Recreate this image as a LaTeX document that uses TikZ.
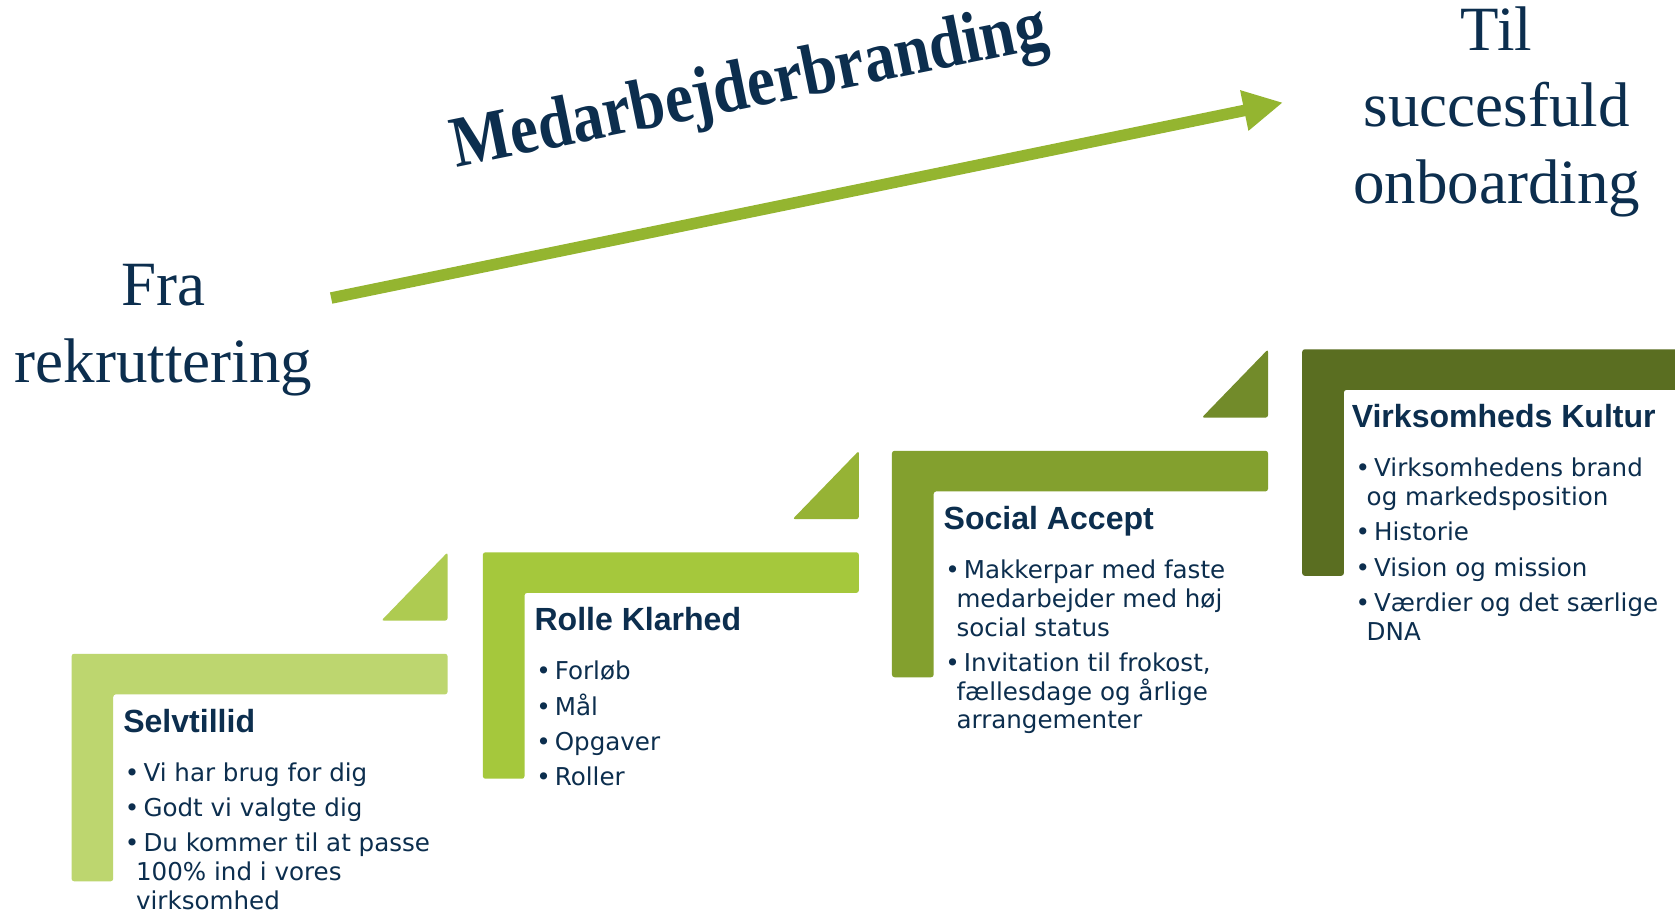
\documentclass[tikz,border=0pt]{standalone}
\usepackage{fontspec}
\usetikzlibrary{arrows.meta}
\newfontfamily\serifface{Liberation Serif}
\newfontfamily\headface{Liberation Sans}
\newfontfamily\stepface{DejaVu Sans}
\definecolor{navy}{HTML}{0C2E4E}
\definecolor{stepA}{HTML}{BDD66F}
\definecolor{triA}{HTML}{AECB51}
\definecolor{stepB}{HTML}{A5C83C}
\definecolor{triB}{HTML}{96B335}
\definecolor{stepC}{HTML}{83A02E}
\definecolor{triC}{HTML}{728B2A}
\definecolor{stepD}{HTML}{5A6E21}
\definecolor{arrowgreen}{HTML}{94B530}
\newcommand{\stepbullet}{\textbullet\hspace{1.9pt}}
\newcommand{\stepindent}{\hspace*{5.2pt}}
\tikzset{
	bigtext/.style={font=\serifface\fontsize{29.5}{36}\selectfont, text=navy, align=center, inner sep=0pt, anchor=north},
	brandtext/.style={font=\serifface\bfseries\fontsize{29.5}{36}\selectfont, text=navy, inner sep=0pt, anchor=base west, rotate=11.5, yscale=1.15},
	steptitle/.style={font=\headface\bfseries\fontsize{15}{18}\selectfont, text=navy, inner sep=0pt, anchor=base west},
	steplist/.style={font=\stepface\fontsize{11.5}{13.5}\selectfont, text=navy, align=left, inner sep=0pt, anchor=north west},
	brandarrow/.style={draw=arrowgreen, line width=5.4pt, -{Triangle[length=18.5pt, width=18pt, fill=arrowgreen]}}
}
\begin{document}
\begin{tikzpicture}[x=0.5pt, y=-0.5pt, rounded corners=1.2pt]
	\useasboundingbox (0,0) rectangle (1568,854);
	\fill[white] (0,0) rectangle (1568,854);
	% trappetrin
	\fill[stepA] (67,612) -- ++(352,0) -- ++(0,38) -- ++(-313,0) -- ++(0,175) -- ++(-39,0) -- cycle;
	\fill[triA] (357,581) -- ++(62,0) -- ++(0,-64) -- cycle;
	\fill[stepB] (452,517) -- ++(352,0) -- ++(0,38) -- ++(-313,0) -- ++(0,174) -- ++(-39,0) -- cycle;
	\fill[triB] (742,486) -- ++(62,0) -- ++(0,-64) -- cycle;
	\fill[stepC] (835,422) -- ++(352,0) -- ++(0,38) -- ++(-313,0) -- ++(0,174) -- ++(-39,0) -- cycle;
	\fill[triC] (1125,391) -- ++(62,0) -- ++(0,-64) -- cycle;
	\fill[stepD] (1219,327) -- ++(360,0) -- ++(0,38) -- ++(-321,0) -- ++(0,174) -- ++(-39,0) -- cycle;

	\node (selv) [steptitle] at (115,685.5) {Selvtillid};
	\node (selvlist) [steplist] at (116.6,713.5) {\stepbullet Vi har brug for dig\\[3pt]
		\stepbullet Godt vi valgte dig\\[3pt]
		\stepbullet Du kommer til at passe\\
		\stepindent 100\% ind i vores\\
		\stepindent virksomhed};

	\node (rolle) [steptitle] at (500,590.5) {Rolle Klarhed};
	\node (rollelist) [steplist] at (501.6,618.5) {\stepbullet Forløb\\[3pt]
		\stepbullet Mål\\[3pt]
		\stepbullet Opgaver\\[3pt]
		\stepbullet Roller};

	\node (social) [steptitle] at (883,495.5) {Social Accept};
	\node (sociallist) [steplist] at (884.6,523.5) {\stepbullet Makkerpar med faste\\
		\stepindent medarbejder med høj\\
		\stepindent social status\\[3pt]
		\stepbullet Invitation til frokost,\\
		\stepindent fællesdage og årlige\\
		\stepindent arrangementer};

	\node (kultur) [steptitle] at (1265,400.5) {Virksomheds Kultur};
	\node (kulturlist) [steplist] at (1268.6,428.5) {\stepbullet Virksomhedens brand\\
		\stepindent og markedsposition\\[3pt]
		\stepbullet Historie\\[3pt]
		\stepbullet Vision og mission\\[3pt]
		\stepbullet Værdier og det særlige\\
		\stepindent DNA};

	% pil
	\node (fra) [bigtext] at (153,247) {Fra\\rekruttering};
	\node (til) [bigtext] at (1401,5.5) {Til\\succesfuld\\onboarding};
	\coordinate (pilstart) at (310,279);
	\coordinate (pilslut) at (1201,96);
	\draw[brandarrow, sharp corners] (pilstart) -- (pilslut);
	\node (brand) [brandtext] at (427,157) {Medarbejderbranding};
\end{tikzpicture}
\end{document}
